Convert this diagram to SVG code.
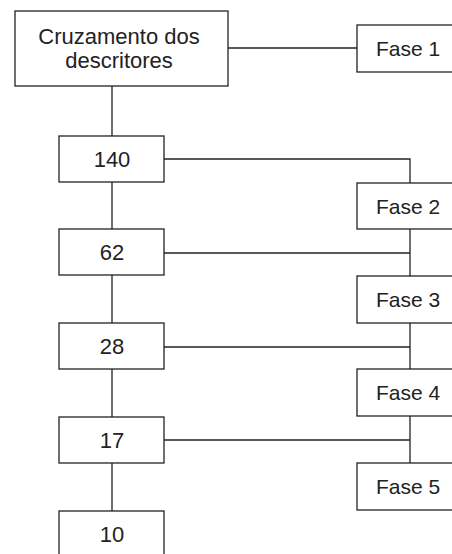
<svg xmlns="http://www.w3.org/2000/svg" width="452" height="554" viewBox="0 0 452 554">
<style>
.box{fill:#fff;stroke:#222;stroke-width:1.3}
.ln{fill:none;stroke:#222;stroke-width:1.3}
.t{font-family:"Liberation Sans",Arial,sans-serif;font-size:22px;fill:#222;text-anchor:middle}
.f{font-size:21px}
</style>
<rect width="452" height="554" fill="#fff"/>
<g id="connectors">
<path class="ln" d="M112 86V136M112 182V229M112 275V323M112 369V417M112 463V511"/>
<path class="ln" d="M228 48H357"/>
<path class="ln" d="M164 159H410V183"/>
<path class="ln" d="M410 229V276M410 323V369M410 416V463"/>
<path class="ln" d="M164 253H410M164 347H410M164 440H410"/>
</g>
<g id="n-cruzamento"><rect class="box" x="15" y="11" width="213" height="75"/><text class="t" x="119" y="44">Cruzamento dos</text><text class="t" x="119" y="68">descritores</text></g>
<g id="n-fase1"><rect class="box" x="357" y="25" width="106" height="47"/><text class="t f" x="408" y="56">Fase 1</text></g>
<g id="n-140"><rect class="box" x="59" y="136" width="105" height="46"/><text class="t" x="112" y="167">140</text></g>
<g id="n-fase2"><rect class="box" x="357" y="183" width="106" height="46"/><text class="t f" x="408" y="214">Fase 2</text></g>
<g id="n-62"><rect class="box" x="59" y="229" width="105" height="46"/><text class="t" x="112" y="260">62</text></g>
<g id="n-fase3"><rect class="box" x="357" y="276" width="106" height="47"/><text class="t f" x="408" y="307">Fase 3</text></g>
<g id="n-28"><rect class="box" x="59" y="323" width="105" height="46"/><text class="t" x="112" y="354">28</text></g>
<g id="n-fase4"><rect class="box" x="357" y="369" width="106" height="47"/><text class="t f" x="408" y="400">Fase 4</text></g>
<g id="n-17"><rect class="box" x="59" y="417" width="105" height="46"/><text class="t" x="112" y="448">17</text></g>
<g id="n-fase5"><rect class="box" x="357" y="463" width="106" height="47"/><text class="t f" x="408" y="494">Fase 5</text></g>
<g id="n-10"><rect class="box" x="59" y="511" width="105" height="46"/><text class="t" x="112" y="542">10</text></g>
</svg>
